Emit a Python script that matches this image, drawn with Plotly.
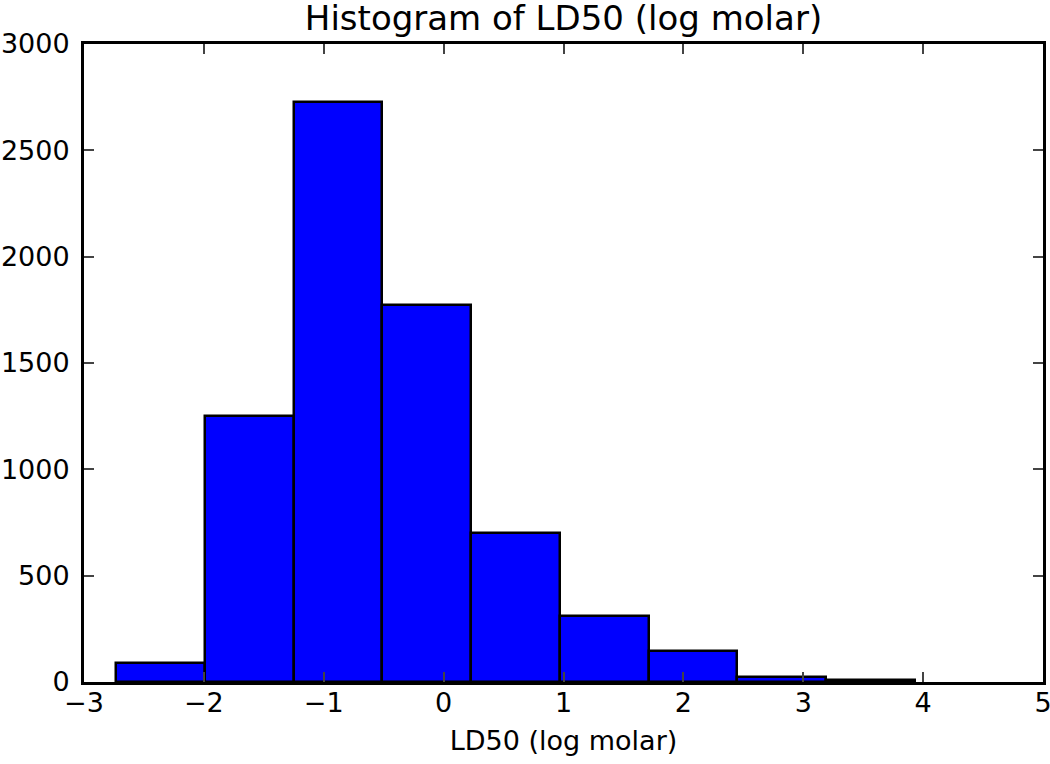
import plotly.graph_objects as go

# Histogram bin edges (log molar) and counts
bin_edges = [-2.73, -1.99, -1.25, -0.51, 0.23, 0.97, 1.71, 2.45, 3.19, 3.93]
counts = [90, 1250, 2728, 1774, 699, 310, 148, 25, 10]

title_text = "Histogram of LD50 (log molar)"
x_label = "LD50 (log molar)"

left_edges = bin_edges[:-1]
widths = [b - a for a, b in zip(bin_edges[:-1], bin_edges[1:])]

FONT = "DejaVu Sans"

W, H = 1050, 764
ML, MR, MT, MB = 84, 7, 44, 82

fig = go.Figure()
fig.add_trace(go.Bar(
    x=left_edges,
    y=counts,
    width=widths,
    offset=0,
    marker=dict(color="#0000ff", line=dict(color="black", width=2.5)),
    showlegend=False,
))

fig.update_layout(
    width=W,
    height=H,
    margin=dict(l=ML, r=MR, t=MT, b=MB, autoexpand=False),
    paper_bgcolor="white",
    plot_bgcolor="white",
    font=dict(family=FONT, size=27, color="black"),
    bargap=0,
    title=dict(
        text=title_text,
        font=dict(family=FONT, size=34, color="black"),
        x=(ML + (W - MR)) / 2 / W,
        xanchor="center",
        xref="container",
        yref="container",
        y=1 - 18 / H,
        yanchor="middle",
        automargin=False,
    ),
)

fig.update_xaxes(
    range=[-3, 5],
    tickvals=[-3, -2, -1, 0, 1, 2, 3, 4, 5],
    automargin=False,
    showgrid=False,
    zeroline=False,
    showline=True,
    linecolor="black",
    linewidth=3,
    mirror="ticks",
    ticks="inside",
    ticklen=10,
    tickwidth=1.5,
    tickcolor="#444",
    ticklabelstandoff=-5,
    ticklabeloverflow="allow",
    tickfont=dict(family=FONT, size=27, color="black"),
    title=dict(text=x_label, font=dict(family=FONT, size=27, color="black"), standoff=14),
)
fig.update_yaxes(
    range=[0, 3000],
    tickvals=[0, 500, 1000, 1500, 2000, 2500, 3000],
    automargin=False,
    showgrid=False,
    zeroline=False,
    showline=True,
    linecolor="black",
    linewidth=3,
    mirror="ticks",
    ticks="inside",
    ticklen=10,
    tickwidth=1.5,
    tickcolor="#444",
    ticklabelstandoff=6,
    ticklabeloverflow="allow",
    tickfont=dict(family=FONT, size=27, color="black"),
)

fig.write_html(
    "out.html",
    config={"displayModeBar": False},
    post_script="document.body.style.margin='0';document.body.style.overflow='hidden';",
)
